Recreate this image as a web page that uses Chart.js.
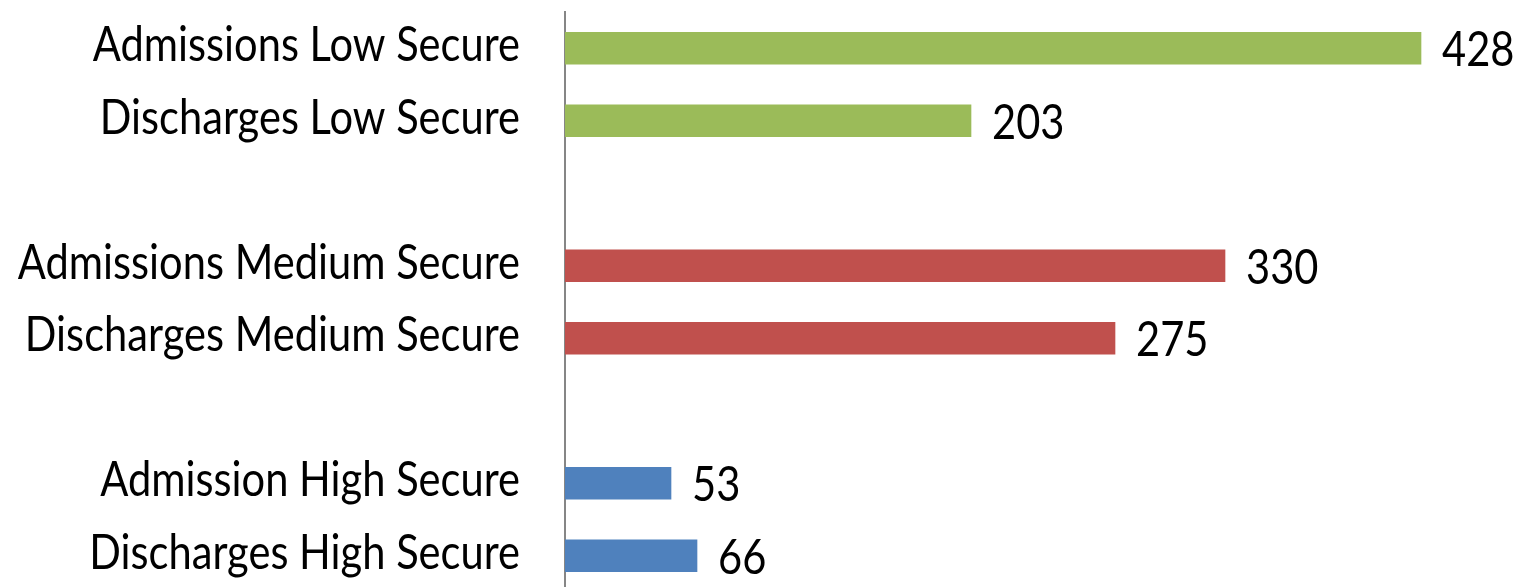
<!DOCTYPE html>
<html>
<head>
<meta charset="utf-8">
<script src="https://cdn.jsdelivr.net/npm/chart.js@4.4.1/dist/chart.umd.min.js"></script>
<style>
  html, body { margin: 0; padding: 0; background: #fff; overflow: hidden; }
  #wrap { width: 1517px; height: 600px; }
</style>
</head>
<body>
<div id="wrap"><canvas id="bars" width="1517" height="600"></canvas></div>
<script>
// Categories (blank entries are the gaps between groups)
const categories = [
  'Admissions Low Secure',
  'Discharges Low Secure',
  '',
  'Admissions Medium Secure',
  'Discharges Medium Secure',
  '',
  'Admission High Secure',
  'Discharges High Secure',
];
const counts = [428, 203, null, 330, 275, null, 53, 66];
const barColors = ['#9BBB59', '#9BBB59', null, '#C0504D', '#C0504D', null, '#4F81BD', '#4F81BD'];

const FONT = 'Lato, "Open Sans", sans-serif';
const SX = 0.85; // squeeze text horizontally, reference font is narrow

// category names + values, drawn narrow like the original
const narrowLabels = {
  id: 'narrowLabels',
  afterDatasetsDraw(chart) {
    const ctx = chart.ctx;
    const yScale = chart.scales.y;
    const meta = chart.getDatasetMeta(0);
    ctx.save();
    ctx.font = '49px ' + FONT;
    ctx.fillStyle = '#000';
    ctx.textBaseline = 'alphabetic';
    ctx.scale(SX, 1);
    categories.forEach((name, i) => {
      if (!name) return;
      const y = yScale.getPixelForTick(i);
      ctx.textAlign = 'right';
      ctx.fillText(name, (yScale.right - 45) / SX, y + 13);
    });
    meta.data.forEach((bar, i) => {
      if (counts[i] == null) return;
      ctx.textAlign = 'left';
      ctx.fillText(String(counts[i]), (bar.x + 21) / SX, bar.y + 18);
    });
    ctx.restore();
  },
};

new Chart(document.getElementById('bars').getContext('2d'), {
  type: 'bar',
  data: {
    labels: categories,
    datasets: [{
      data: counts,
      backgroundColor: barColors,
      barThickness: 32,
      borderWidth: 0,
    }],
  },
  options: {
    indexAxis: 'y',
    responsive: false,
    animation: false,
    layout: { padding: { top: 12, right: 0, bottom: 8, left: 0 } },
    plugins: {
      legend: { display: false },
      tooltip: { enabled: false },
    },
    scales: {
      x: {
        display: false,
        min: 0,
        max: 476,
      },
      y: {
        grid: { display: false },
        border: { display: true, color: '#868686', width: 2 },
        ticks: { display: false },
        afterFit(scale) { scale.width = 565; },
      },
    },
  },
  plugins: [narrowLabels],
});
</script>
</body>
</html>
